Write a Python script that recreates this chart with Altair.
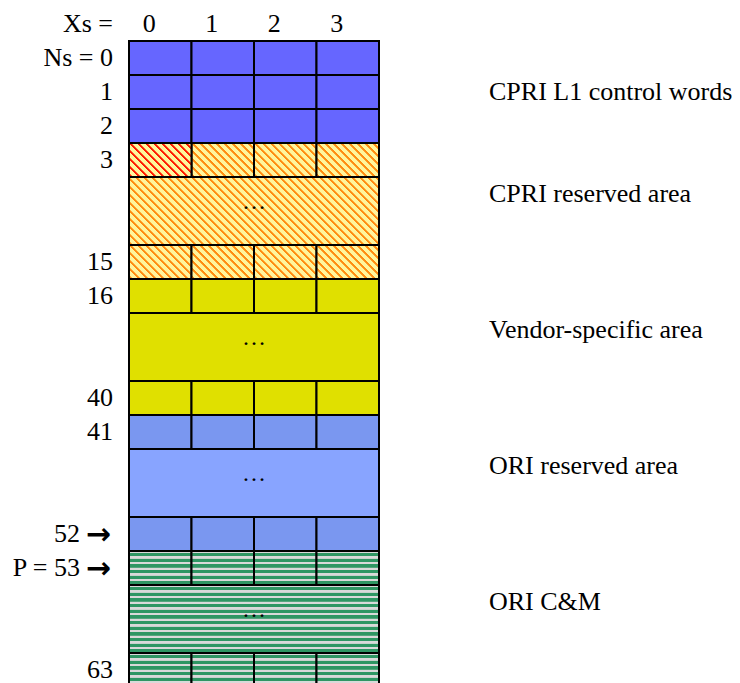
import altair as alt
import pandas as pd

# ---------------- data ----------------
col_labels = ["0", "1", "2", "3"]
row_labels = ["Ns =  0", "1", "2", "3", "", "15", "16", "", "40", "41", "", "52", "P = 53", "", "63"]
row_arrow = [False] * 11 + [True, True, False, False]
row_span = [1, 1, 1, 1, 2, 1, 1, 2, 1, 1, 2, 1, 1, 2, 1]
row_kind = ["blue", "blue", "blue", "hatch", "hatch", "hatch", "yellow", "yellow", "yellow",
            "ori", "ori_light", "ori", "green", "green", "green"]
row_split = [True, True, True, True, False, True, True, False, True, True, False, True, True, False, True]
red_cells = [(3, 0)]  # (row index, column) drawn with red hatch
area_labels = ["CPRI L1 control words", "CPRI reserved area", "Vendor-specific area",
               "ORI reserved area", "ORI C&M"]
area_pos = [1.5, 4.5, 8.5, 12.5, 16.5]

solid_kinds = ["blue", "yellow", "ori", "ori_light"]
solid_colors = ["#6666FF", "#E0E000", "#7A97F0", "#88A4FF"]

# ---------------- tables ----------------
cells, dots, lefts, arrows = [], [], [], []
start = 0
for i, (lab, span, kind, split, arr) in enumerate(zip(row_labels, row_span, row_kind, row_split, row_arrow)):
    if split:
        for c in range(len(col_labels)):
            k = "hatch_red" if (i, c) in red_cells else kind
            cells.append(dict(x=c, x2=c + 1, y=start, y2=start + span, kind=k, size="cell"))
    else:
        cells.append(dict(x=0, x2=len(col_labels), y=start, y2=start + span, kind=kind, size="block"))
        dots.append(dict(x=len(col_labels) / 2, y=start + span / 2, text="\u2026"))
    if lab:
        lefts.append(dict(x=0, y=start + span / 2, text=lab, arrow=arr))
    if arr:
        arrows.append(dict(x=0, y=start + span / 2, text="\u2192"))
    start += span
n_units = start

cells = pd.DataFrame(cells)
dots = pd.DataFrame(dots)
lefts = pd.DataFrame(lefts)
arrows = pd.DataFrame(arrows)
header = pd.DataFrame(dict(x=[i + 0.5 for i in range(len(col_labels))], y=-0.5, text=col_labels))
header_l = pd.DataFrame(dict(x=[0], y=[-0.5], text=["Xs ="]))
rights = pd.DataFrame(dict(x=len(col_labels), y=area_pos, text=area_labels))

W, H = 250, 646
cw, rh = W / len(col_labels), H / n_units

xs = alt.Scale(domain=[0, len(col_labels)])
ys = alt.Scale(domain=[0, n_units], reverse=True)


# ---------------- pattern fills (gradients) ----------------
def _stripes(L, fg, bg, first, pitch, band, soft=0.6):
    stops = [{"offset": 0, "color": bg}]
    a = first
    while a + soft < L:
        b = min(a + band, L - soft)
        stops += [{"offset": a / L, "color": bg}, {"offset": (a + soft) / L, "color": fg},
                  {"offset": b / L, "color": fg}, {"offset": min(b + soft, L) / L, "color": bg}]
        a += pitch
    stops.append({"offset": 1, "color": bg})
    return stops


def hatch(w, h, fg, bg, pitch=8.0, band=2.8):
    L = w + h
    k = L / (w * w + h * h)
    return {"gradient": "linear", "x1": 0, "y1": 1, "x2": k * w, "y2": 1 - k * h,
            "stops": _stripes(L, fg, bg, 1.0, pitch, band)}


def hstripes(h, fg, bg, period=34 / 6, band=3.3, first=1.8):
    return {"gradient": "linear", "x1": 0, "y1": 0, "x2": 0, "y2": 1,
            "stops": _stripes(h, fg, bg, first, period, band, soft=0.3)}


HATCH_BG, HATCH_FG, HATCH_RED = "#FFF59C", "#FF8C10", "#FF1A00"
GREEN, GRAY = "#2E9663", "#D9D9D9"

fills = {
    ("hatch", "cell"): hatch(cw, rh, HATCH_FG, HATCH_BG),
    ("hatch", "block"): hatch(W, 2 * rh, HATCH_FG, HATCH_BG),
    ("hatch_red", "cell"): hatch(cw, rh, HATCH_RED, HATCH_BG),
    ("green", "cell"): hstripes(rh, GREEN, GRAY),
    ("green", "block"): hstripes(2 * rh, GREEN, GRAY),
}

base = alt.Chart(cells).encode(
    x=alt.X("x:Q", scale=xs, axis=None),
    x2="x2:Q",
    y=alt.Y("y:Q", scale=ys, axis=None),
    y2="y2:Q",
)

solid = base.mark_rect(stroke="black", strokeWidth=2).encode(
    fill=alt.Fill("kind:N", scale=alt.Scale(domain=solid_kinds, range=solid_colors), legend=None)
).transform_filter(alt.FieldOneOfPredicate(field="kind", oneOf=solid_kinds))

layers = [solid]
for (kind, size), grad in fills.items():
    layers.append(
        base.mark_rect(stroke="black", strokeWidth=2, fill=grad).transform_filter(
            (alt.datum.kind == kind) & (alt.datum.size == size)
        )
    )

FONT = "'Times New Roman', 'Liberation Serif', 'DejaVu Serif', serif"
FS = 26

txt = dict(font=FONT, fontSize=FS, color="black", baseline="middle")
enc = dict(x=alt.X("x:Q", scale=xs), y=alt.Y("y:Q", scale=ys), text="text:N")

dots_layer = alt.Chart(dots).mark_text(font=FONT, fontSize=24, color="black",
                                       baseline="alphabetic", dy=-2).encode(**enc)

left_plain = alt.Chart(lefts).transform_filter("!datum.arrow").mark_text(
    align="right", dx=-16, **txt).encode(**enc)
left_arrowed = alt.Chart(lefts).transform_filter("datum.arrow").mark_text(
    align="right", dx=-49, **txt).encode(**enc)
arrow_layer = alt.Chart(arrows).mark_text(
    align="right", dx=-18, dy=1, font="DejaVu Sans", fontSize=30, fontWeight="bold",
    color="black", baseline="middle").encode(**enc)

header_layer = alt.Chart(header).mark_text(align="center", dx=-11, **txt).encode(**enc)
header_l_layer = alt.Chart(header_l).mark_text(align="right", dx=-16, **txt).encode(**enc)
right_layer = alt.Chart(rights).mark_text(align="left", dx=110, **txt).encode(**enc)

chart = alt.layer(*layers, dots_layer, left_plain, left_arrowed, arrow_layer,
                  header_layer, header_l_layer, right_layer).properties(
    width=W, height=H,
    autosize="none",
    padding={"left": 121, "top": 33, "right": 353, "bottom": 0},
).configure_view(strokeWidth=0)

chart.save("out.html", embed_options={"renderer": "svg", "actions": False})
